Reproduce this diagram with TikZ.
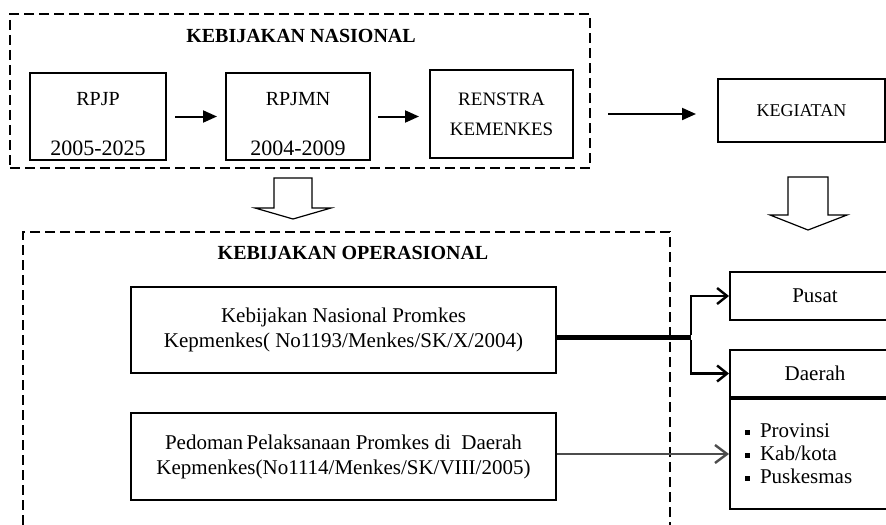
\documentclass[tikz,border=0pt]{standalone}
\usepackage{fontspec}
\setmainfont{Liberation Serif}
\usetikzlibrary{arrows.meta,positioning,calc}
\newcommand\sqitem{\rule[1.5pt]{2.5pt}{2.5pt}\hspace{5pt}}
\begin{document}
\begin{tikzpicture}[x=0.5pt,y=-0.5pt,
  box/.style={draw,line width=1pt,inner sep=0pt,align=center,font=\fontsize{10.5}{12.5}\selectfont},
  dashbox/.style={draw,line width=0.8pt,dash pattern=on 5pt off 2.5pt,inner sep=0pt},
  title/.style={font=\fontsize{10}{12}\selectfont\bfseries},
  flow/.style={-{Triangle[length=7pt,width=6pt]},line width=1pt},
  hollow/.style={draw,line width=0.6pt,fill=white},
  branch/.style={-{Straight Barb[length=5pt,width=8pt,line width=1.2pt]},line width=1.2pt}]
        % Bingkai
        \useasboundingbox (0,0) rectangle (886,524);
        \clip (0,0) rectangle (886,524);

        % Kebijakan nasional
        \node[dashbox, minimum width=290pt, minimum height=77pt] (nasional) at (300,91) {};
        \node[title] (tnas) at (301,36) {KEBIJAKAN NASIONAL};
        \node[box, minimum width=68pt, minimum height=43.5pt,
              label={[anchor=base,yshift=-16.5pt,font=\fontsize{10}{12}\selectfont]north:RPJP},
              label={[anchor=base,yshift=3pt,font=\fontsize{11}{13}\selectfont]south:2005-2025}] (rpjp) at (98,116.5) {};
        \node[box, minimum width=72pt, minimum height=43.5pt,
              label={[anchor=base,yshift=-16.5pt,font=\fontsize{10}{12}\selectfont]north:RPJMN},
              label={[anchor=base,yshift=3pt,font=\fontsize{11}{13}\selectfont]south:2004-2009}] (rpjmn) at (298,116.5) {};
        \node[box, minimum width=71.5pt, minimum height=44pt, font=\fontsize{9.5}{11}\selectfont] (renstra) at (501.5,114) {RENSTRA\\[4pt]KEMENKES};
        \node[box, minimum width=83.5pt, minimum height=31.5pt, font=\fontsize{9}{11}\selectfont] (kegiatan) at (801.5,110.5) {KEGIATAN};

        \draw[flow, shorten <=4pt, shorten >=4pt] (rpjp) -- (rpjmn);
        \draw[flow, shorten <=3.5pt, shorten >=5pt] (rpjmn.east) -- (rpjmn.east -| renstra.west);
        \draw[flow, shorten <=17pt, shorten >=10.5pt] (renstra.east) -- (renstra.east -| kegiatan.west);

        % Panah turun
        \draw[hollow] (274,178) -- (274,208) -- (255,208) -- (293,219) -- (331,208) -- (312,208) -- (312,178) -- cycle;
        \draw[hollow] (788,177) -- (788,215) -- (770,215) -- (808,230) -- (847,215) -- (828,215) -- (828,177) -- cycle;

        % Kebijakan operasional
        \node[dashbox, minimum width=323.5pt, minimum height=156.5pt] (operasional) at (346.5,388.5) {};
        \node[title] (tops) at (353,253) {KEBIJAKAN OPERASIONAL};
        \node[box, minimum width=212.5pt, minimum height=43pt] (k1) at (343.5,330)
            {Kebijakan Nasional Promkes\\Kepmenkes( No1193/Menkes/SK/X/2004)};
        \node[box, minimum width=212.5pt, minimum height=43.5pt] (k2) at (343.5,456.5)
            {Pedoman\,Pelaksanaan Promkes di\ \ Daerah\\Kepmenkes(No1114/Menkes/SK/VIII/2005)};

        % Sasaran
        \node[box, minimum width=85pt, minimum height=24pt] (pusat) at (815,296) {Pusat};
        \node[box, minimum width=85pt, minimum height=23.5pt] (daerah) at (815,373.5) {Daerah};
        \node[box, anchor=north, minimum width=85pt, minimum height=55pt, text width=70pt, align=left,
              font=\fontsize{10.5}{11.5}\selectfont] (wilayah) at (daerah.south)
            {\sqitem Provinsi\\\sqitem Kab/kota\\\sqitem Puskesmas};

        \coordinate (split) at ($(k1.east)+(134,7)$);
        \draw[line width=2.5pt] ([yshift=-3.5pt]k1.east) -- (split);
        \draw[branch] ([yshift=1.25pt]split) |- (pusat.west);
        \draw[branch] ([yshift=-1.25pt]split) |- (daerah.west);
        \draw[-{Straight Barb[length=6pt,width=9pt,line width=1.2pt]}, line width=1pt, black!70]
            (k2.east |- wilayah.west) -- (wilayah.west);
    \end{tikzpicture}
\end{document}
